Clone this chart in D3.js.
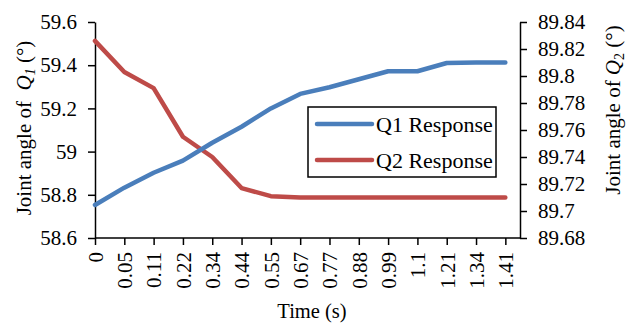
<!DOCTYPE html>
<html>
<head>
<meta charset="utf-8">
<script src="https://cdn.jsdelivr.net/npm/d3@7"></script>
<style>
	body { margin: 0; background: #fff; }
	svg text { font-family: 'Liberation Serif', 'Times New Roman', Times, 'DejaVu Serif', serif; fill: #000; }
	.axis path, .axis line { stroke: #000; stroke-width: 1.5px; }
</style>
</head>
<body>
<svg id="chart" width="630" height="323"></svg>
<script>
'use strict';

//Chart data
var times = ["0", "0.05", "0.11", "0.22", "0.34", "0.44", "0.55", "0.67", "0.77", "0.88", "0.99", "1.1", "1.21", "1.34", "1.41"];
var q1Values = [58.753, 58.833, 58.902, 58.958, 59.041, 59.115, 59.200, 59.267, 59.298, 59.335, 59.372, 59.372, 59.410, 59.412, 59.412];
var q2Values = [89.826, 89.803, 89.791, 89.755, 89.740, 89.717, 89.711, 89.710, 89.710, 89.710, 89.710, 89.710, 89.710, 89.710, 89.710];
var leftTicks = [58.6, 58.8, 59, 59.2, 59.4, 59.6];
var rightTicks = [89.68, 89.7, 89.72, 89.74, 89.76, 89.78, 89.8, 89.82, 89.84];
var seriesNames = ["Q1 Response", "Q2 Response"];
var seriesColors = ["#4a7ebb", "#be4b48"];

var serifFont = "'Liberation Serif', 'Times New Roman', Times, serif";

var svg = d3.select("#chart");

var plot = { left: 95, right: 520, top: 22, bottom: 238 };

//Scales
var x = d3.scalePoint()
	.domain(times)
	.range([plot.left, plot.left + (plot.right - plot.left) * 14 / 14.5]);

var yLeft = d3.scaleLinear().domain([58.6, 59.6]).range([plot.bottom, plot.top]);
var yRight = d3.scaleLinear().domain([89.68, 89.84]).range([plot.bottom, plot.top]);

//Left axis
var leftAxis = svg.append("g")
	.attr("class", "axis")
	.attr("transform", "translate(" + plot.left + ",0)")
	.call(d3.axisLeft(yLeft).tickValues(leftTicks).tickSize(7).tickSizeOuter(0).tickFormat(d3.format("")));
leftAxis.selectAll("text").attr("x", -18);

//Right axis
var rightAxis = svg.append("g")
	.attr("class", "axis")
	.attr("transform", "translate(" + plot.right + ",0)")
	.call(d3.axisRight(yRight).tickValues(rightTicks).tickSize(7).tickSizeOuter(0).tickFormat(d3.format("")));
rightAxis.selectAll("text").attr("x", 18);

//Bottom axis
var bottomAxis = svg.append("g")
	.attr("class", "axis")
	.attr("transform", "translate(0," + plot.bottom + ")")
	.call(d3.axisBottom(x).tickSize(7).tickSizeOuter(0));
bottomAxis.select(".domain").attr("d", "M" + plot.left + ",0H" + plot.right);
bottomAxis.selectAll("text")
	.attr("transform", "rotate(-90)")
	.attr("x", -14)
	.attr("y", 0)
	.attr("dy", "0.35em")
	.attr("text-anchor", "end");

svg.selectAll(".axis").attr("font-family", serifFont).attr("font-size", 21);

//Lines
var q1Line = d3.line()
	.x(function(d, i) { return x(times[i]); })
	.y(function(d) { return yLeft(d); });

var q2Line = d3.line()
	.x(function(d, i) { return x(times[i]); })
	.y(function(d) { return yRight(d); });

svg.append("path")
	.datum(q2Values)
	.attr("d", q2Line)
	.attr("fill", "none")
	.attr("stroke", seriesColors[1])
	.attr("stroke-width", 4.5)
	.attr("stroke-linejoin", "round")
	.attr("stroke-linecap", "round");

svg.append("path")
	.datum(q1Values)
	.attr("d", q1Line)
	.attr("fill", "none")
	.attr("stroke", seriesColors[0])
	.attr("stroke-width", 4.5)
	.attr("stroke-linejoin", "round")
	.attr("stroke-linecap", "round");

//Legend
var legend = svg.append("g").attr("transform", "translate(308,107)");
legend.append("rect")
	.attr("width", 188)
	.attr("height", 70)
	.attr("fill", "#fff")
	.attr("stroke", "#000")
	.attr("stroke-width", 1.5);

seriesNames.forEach(function(name, i) {
	var rowY = 17 + i * 36;
	legend.append("line")
		.attr("x1", 9).attr("x2", 64)
		.attr("y1", rowY).attr("y2", rowY)
		.attr("stroke", seriesColors[i])
		.attr("stroke-width", 4.5)
		.attr("stroke-linecap", "round");
	legend.append("text")
		.attr("x", 68)
		.attr("y", rowY + 7.5)
		.attr("font-size", 22)
		.attr("font-family", serifFont)
		.text(name);
});

//Axis titles
svg.append("text")
	.attr("x", 312)
	.attr("y", 318)
	.attr("text-anchor", "middle")
	.attr("font-size", 20.5)
	.attr("font-family", serifFont)
	.text("Time (s)");

var leftTitle = svg.append("text")
	.attr("transform", "translate(31,128) rotate(-90)")
	.attr("text-anchor", "middle")
	.attr("font-size", 21)
	.attr("font-family", serifFont);
leftTitle.append("tspan").text("Joint angle of\u00a0 ");
leftTitle.append("tspan").attr("font-style", "italic").text("Q");
leftTitle.append("tspan").attr("font-style", "italic").attr("font-size", 14).attr("dy", 4).text("1");
leftTitle.append("tspan").attr("dy", -4).text(" (\u00b0)");

var rightTitle = svg.append("text")
	.attr("transform", "translate(620,110) rotate(-90)")
	.attr("text-anchor", "middle")
	.attr("font-size", 21)
	.attr("font-family", serifFont);
rightTitle.append("tspan").text("Joint angle of ");
rightTitle.append("tspan").attr("font-style", "italic").text("Q");
rightTitle.append("tspan").attr("font-size", 14).attr("dy", 4).text("2");
rightTitle.append("tspan").attr("dy", -4).text(" (\u00b0)");
</script>
</body>
</html>
